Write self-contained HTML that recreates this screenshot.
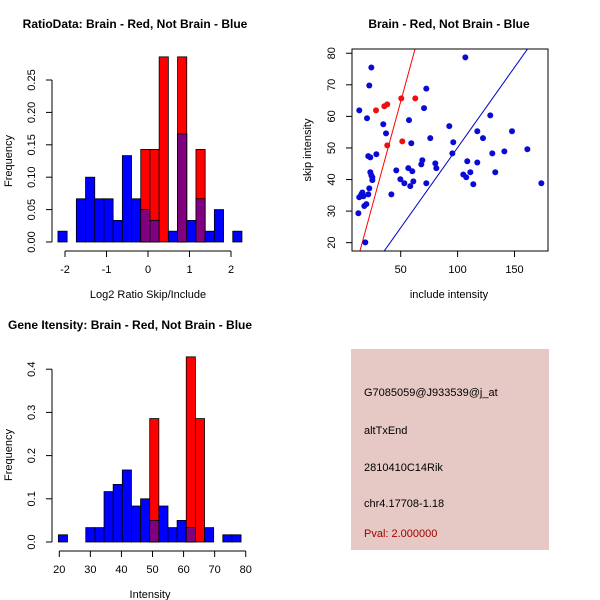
<!DOCTYPE html>
<html><head><meta charset="utf-8"><style>
body{margin:0;background:#fff}
svg{display:block;font-family:"Liberation Sans",sans-serif}
</style></head><body>
<svg id="s" width="600" height="600" xmlns="http://www.w3.org/2000/svg">
<rect width="600" height="600" fill="#fff"/>
<text x="135" y="28" font-size="12" font-weight="bold" text-anchor="middle">RatioData: Brain - Red, Not Brain - Blue</text>
<text x="449" y="28" font-size="12" font-weight="bold" text-anchor="middle">Brain - Red, Not Brain - Blue</text>
<text x="8" y="329" font-size="12" font-weight="bold">Gene Itensity: Brain - Red, Not Brain - Blue</text>
<text x="148" y="298" font-size="11" text-anchor="middle">Log2 Ratio Skip/Include</text>
<text x="12" y="161" font-size="11" text-anchor="middle" transform="rotate(-90 12 161)">Frequency</text>
<text x="449" y="298" font-size="11" text-anchor="middle">include intensity</text>
<text x="311" y="150" font-size="11" text-anchor="middle" transform="rotate(-90 311 150)">skip intensity</text>
<text x="150" y="598" font-size="11" text-anchor="middle">Intensity</text>
<text x="12" y="455" font-size="11" text-anchor="middle" transform="rotate(-90 12 455)">Frequency</text>
<g>
<rect x="351" y="349" width="198" height="201" fill="#e6c9c4"/>
<text x="364" y="396" font-size="11">G7085059@J933539@j_at</text>
<text x="364" y="434" font-size="11">altTxEnd</text>
<text x="364" y="471" font-size="11">2810410C14Rik</text>
<text x="364" y="507" font-size="11">chr4.17708-1.18</text>
<text x="364" y="537" font-size="11" fill="#a00000">Pval: 2.000000</text>
</g>
</svg>
<script>
// Ratio histogram data
const ratioStart = -2.17, ratioBinW = 0.2217;
const ratioBlue = [0.0167,0,0.0667,0.1,0.0667,0.0667,0.0333,0.1333,0.0667,0.05,0.0333,0,0.0167,0.1667,0.0333,0.0667,0.0167,0.05,0,0.0167];
const ratioRed  = [0,0,0,0,0,0,0,0,0,0.1429,0.1429,0.2857,0,0.2857,0,0.1429,0,0,0,0];
const ratioXTicks = [-2,-1,0,1,2];
const ratioYTicks = ["0.00","0.05","0.10","0.15","0.20","0.25"];
// Intensity histogram data
const intStart = 19.7, intBinW = 2.94;
const intBlue = [0.0167,0,0,0.0333,0.0333,0.1167,0.1333,0.1667,0.0833,0.1,0.05,0.0833,0.0333,0.05,0.0333,0,0.0333,0,0.0167,0.0167];
const intRed  = [0,0,0,0,0,0,0,0,0,0,0.2857,0,0,0,0.4286,0.2857,0,0,0,0];
const intXTicks = [20,30,40,50,60,70,80];
const intYTicks = ["0.0","0.1","0.2","0.3","0.4"];
// Scatter data
const blueX = [106.8,24.2,22.4,72.5,13.6,70.5,128.7,20.4,57.3,34.7,92.7,37.1,117.3,147.8,76.0,122.3,96.2,59.3,161.3,141.1,95.4,130.5,28.6,21.5,23.3,69.0,68.1,108.5,117.3,80.4,81.3,56.7,46.1,60.2,23.3,133.1,111.2,24.2,105.0,107.6,25.1,49.7,25.1,61.1,53.2,72.5,173.6,113.8,58.4,22.4,21.5,41.8,16.3,15.4,17.2,13.6,19.8,18.0,12.8,18.9];
const blueY = [78.7,75.5,69.8,68.8,61.9,62.6,60.3,59.4,58.8,57.5,56.9,54.6,55.3,55.3,53.1,53.1,51.8,51.5,49.6,48.9,48.3,48.3,48.0,47.4,47.0,46.1,44.8,45.8,45.4,45.1,43.6,43.6,42.9,42.6,42.3,42.3,42.3,41.3,41.6,40.7,40.7,40.1,39.8,39.4,38.8,38.8,38.8,38.5,37.9,37.2,35.3,35.3,35.9,35.3,34.7,34.4,32.2,31.6,29.3,20.1];
const redX = [28.3,35.6,38.2,50.5,62.8,51.4,38.2];
const redY = [61.9,63.2,63.8,65.7,65.7,52.1,50.8];
const scXTicks = [50,100,150];
const scYTicks = [20,30,40,50,60,70,80];
const redLine = [1.322,-1.4];   // slope, intercept
const blueLine = [0.508,-0.68];

const NS="http://www.w3.org/2000/svg", svg=document.getElementById('s');
function mk(tag,attrs,parent){const e=document.createElementNS(NS,tag);for(const k in attrs)e.setAttribute(k,attrs[k]);(parent||svg).appendChild(e);return e;}

function hist(blue,red,start,bw,sx,sy,name){
  const g=mk('g',{});
  
  
  for(let i=0;i<blue.length;i++){
    const x0=sx(start+i*bw), x1=sx(start+(i+1)*bw);
    const b=blue[i], r=red[i], m=Math.min(b,r), mx=Math.max(b,r);
    if(mx<=0) continue;
    if(b>0){const e=mk('rect',{x:x0,y:sy(b),width:x1-x0,height:sy(0)-sy(b),fill:'#0000ff',stroke:'#000','stroke-width':0.8},g);
      
      }
    if(r>0){const e=mk('rect',{x:x0,y:sy(r),width:x1-x0,height:sy(0)-sy(r),fill:'#ff0000',stroke:'#000','stroke-width':0.8},g);
      
      }
    if(m>0){const e=mk('rect',{x:x0,y:sy(m),width:x1-x0,height:sy(0)-sy(m),fill:'#800080',stroke:'#000','stroke-width':0.8},g);
      
      }
  }
}
function axes(xt,xl,yt,yl,sx,sy,axY,axX,name){
  const g=mk('g',{stroke:'#000','stroke-width':1,fill:'none'});
  
  
  mk('line',{x1:sx(xt[0]),x2:sx(xt[xt.length-1]),y1:axY,y2:axY},g);
  xt.forEach((v,i)=>{mk('line',{x1:sx(v),x2:sx(v),y1:axY,y2:axY+6},g);
    const t=mk('text',{x:sx(v),y:axY+22,'font-size':11,'text-anchor':'middle',stroke:'none',fill:'#000'});t.textContent=xl[i];
    
    });
  mk('line',{x1:axX,x2:axX,y1:sy(yt[0]),y2:sy(yt[yt.length-1])},g);
  yt.forEach((v,i)=>{mk('line',{x1:axX,x2:axX-6,y1:sy(v),y2:sy(v)},g);
    const t=mk('text',{x:axX-17,y:sy(v),'font-size':11,'text-anchor':'middle',stroke:'none',fill:'#000',transform:`rotate(-90 ${axX-17} ${sy(v)})`});t.textContent=yl[i];
    
    });
}
// Ratio histogram
const rsx=v=>148+v*41.5, rsy=v=>242-v*648;
hist(ratioBlue,ratioRed,ratioStart,ratioBinW,rsx,rsy,'ratio');
axes(ratioXTicks,ratioXTicks.map(String),ratioYTicks.map(Number),ratioYTicks,rsx,rsy,251,52,'ratio');
// Intensity histogram
const isx=v=>59.3+(v-20)*3.107, isy=v=>542-v*432;
hist(intBlue,intRed,intStart,intBinW,isx,isy,'intensity');
axes(intXTicks,intXTicks.map(String),intYTicks.map(Number),intYTicks,isx,isy,551,52,'intensity');
// Scatter
const ssx=v=>343.8+v*1.138, ssy=v=>305.8-v*3.157;
const xmin=7.2,xmax=179.4,ymin=17.4,ymax=81.4;
const clip=mk('clipPath',{id:'cp'});mk('rect',{x:352,y:49,width:196,height:202},clip);
const sg=mk('g',{'clip-path':'url(#cp)'});


[[redLine,'#ff0000','red-fit-line'],[blueLine,'#0000cc','blue-fit-line']].forEach(([ln,c,n])=>{
  const l=mk('line',{x1:ssx(xmin),y1:ssy(ln[0]*xmin+ln[1]),x2:ssx(xmax),y2:ssy(ln[0]*xmax+ln[1]),stroke:c,'stroke-width':1},sg);
  
  
});
blueX.forEach((x,i)=>{const c=mk('circle',{cx:ssx(x),cy:ssy(blueY[i]),r:3,fill:'#0a0ad8'},sg);
  
  });
redX.forEach((x,i)=>{const c=mk('circle',{cx:ssx(x),cy:ssy(redY[i]),r:3,fill:'#ee1010'},sg);
  
  });
const box=mk('rect',{x:352,y:49,width:196,height:202,fill:'none',stroke:'#000'});


const ag=mk('g',{stroke:'#000'});


scXTicks.forEach(v=>{mk('line',{x1:ssx(v),x2:ssx(v),y1:251,y2:257},ag);
  const t=mk('text',{x:ssx(v),y:273,'font-size':11,'text-anchor':'middle',stroke:'none'});t.textContent=v;
  
  });
scYTicks.forEach(v=>{mk('line',{x1:352,x2:346,y1:ssy(v),y2:ssy(v)},ag);
  const t=mk('text',{x:335,y:ssy(v),'font-size':11,'text-anchor':'middle',stroke:'none',transform:`rotate(-90 335 ${ssy(v)})`});t.textContent=v;
  
  });
</script>
</body></html>
